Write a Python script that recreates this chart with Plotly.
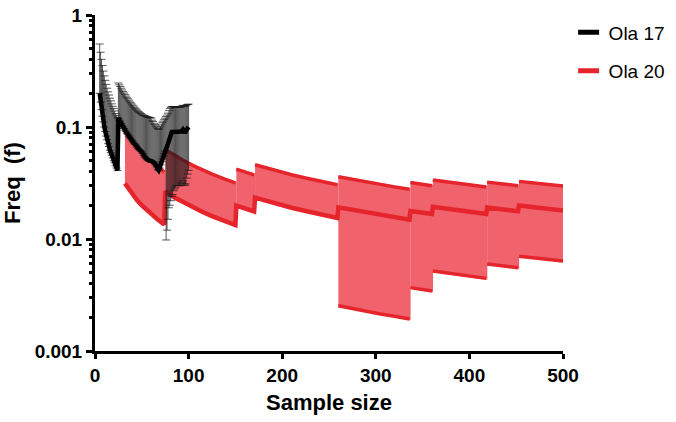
import plotly.graph_objects as go

# ---------------- data ----------------
# Ola 17 (black): sample size, frequency, upper and lower bounds
black_n = list(range(5, 101))
black_f = [0.20, 0.167, 0.143, 0.125, 0.111, 0.10, 0.091, 0.083, 0.077, 0.071,
           0.067, 0.062, 0.059, 0.056, 0.053, 0.050, 0.048, 0.045, 0.043, 0.041,
           0.12, 0.115, 0.111, 0.107, 0.103, 0.10, 0.097, 0.094, 0.091, 0.088,
           0.086, 0.083, 0.081, 0.079, 0.077, 0.075, 0.073, 0.071, 0.070, 0.068,
           0.066, 0.064, 0.063, 0.062, 0.061, 0.060, 0.058, 0.056, 0.054, 0.053,
           0.052, 0.051, 0.050, 0.050, 0.050, 0.050, 0.049, 0.049, 0.048, 0.047,
           0.046, 0.044, 0.042, 0.041,
           0.043, 0.046, 0.049, 0.052, 0.055, 0.058, 0.061, 0.064, 0.067, 0.071,
           0.077, 0.083, 0.087, 0.090, 0.090, 0.090, 0.090, 0.090, 0.090, 0.090,
           0.090, 0.090, 0.090, 0.091, 0.093, 0.095, 0.092, 0.088, 0.092, 0.096,
           0.098, 0.10]
black_hi = [0.551, 0.465, 0.402, 0.354, 0.316, 0.286, 0.261, 0.240, 0.222, 0.206,
            0.193, 0.181, 0.171, 0.161, 0.153, 0.146, 0.139, 0.132, 0.127, 0.122,
            0.247, 0.238, 0.230, 0.222, 0.214, 0.207, 0.201, 0.195, 0.189, 0.184,
            0.179, 0.174, 0.170, 0.165, 0.161, 0.157, 0.154, 0.150, 0.147, 0.144,
            0.141, 0.138, 0.136, 0.134, 0.132, 0.130, 0.128, 0.127, 0.126, 0.125,
            0.124, 0.123, 0.122, 0.122, 0.121, 0.120, 0.115, 0.112, 0.108, 0.105,
            0.102, 0.100, 0.097, 0.095,
            0.098, 0.102, 0.106, 0.110, 0.113, 0.117, 0.120, 0.124, 0.128, 0.133,
            0.140, 0.146, 0.150, 0.152, 0.152, 0.152, 0.152, 0.152, 0.150, 0.150,
            0.150, 0.150, 0.150, 0.152, 0.154, 0.156, 0.155, 0.152, 0.155, 0.158,
            0.159, 0.160]
black_lo = [None] * 71 + [0.0098, 0.012, 0.015, 0.019, 0.020, 0.022, 0.024, 0.025,
                          0.027, 0.028, 0.029, 0.030, 0.030, 0.030, 0.030, 0.030,
                          0.031, 0.032, 0.033, 0.031, 0.030, 0.031, 0.035, 0.038,
                          0.041]

# Ola 20 (red): sample size, frequency, upper and lower bounds
red_n = [32, 36, 40, 45, 50, 55, 60, 67, 74,
         75, 85, 95, 105, 115, 125, 138, 150,
         151, 160, 170,
         171, 180, 195, 210, 225, 240, 259,
         260, 275, 290, 305, 320, 336,
         337, 348, 360,
         361, 375, 390, 405, 418,
         419, 435, 452,
         453, 465, 480, 500]
red_f = [0.0313, 0.0278, 0.0250, 0.0222, 0.0200, 0.0182, 0.0167, 0.0149, 0.0135,
         0.0267, 0.0235, 0.0211, 0.0190, 0.0174, 0.0160, 0.0145, 0.0133,
         0.0199, 0.0188, 0.0176,
         0.0234, 0.0222, 0.0205, 0.0190, 0.0178, 0.0167, 0.0154,
         0.0192, 0.0182, 0.0172, 0.0164, 0.0156, 0.0149,
         0.0178, 0.0172, 0.0167,
         0.0194, 0.0187, 0.0179, 0.0173, 0.0167,
         0.0191, 0.0184, 0.0177,
         0.0199, 0.0194, 0.0188, 0.0180]
red_hi = [0.0915, 0.0815, 0.0734, 0.0653, 0.0588, 0.0535, 0.0490, 0.0440, 0.0398,
          0.0631, 0.0558, 0.0499, 0.0452, 0.0413, 0.0380, 0.0344, 0.0317,
          0.0421, 0.0398, 0.0374,
          0.0460, 0.0438, 0.0404, 0.0375, 0.0350, 0.0329, 0.0305,
          0.0359, 0.0340, 0.0322, 0.0306, 0.0292, 0.0278,
          0.0319, 0.0309, 0.0299,
          0.0336, 0.0324, 0.0311, 0.0300, 0.0291,
          0.0322, 0.0310, 0.0299,
          0.0327, 0.0319, 0.0309, 0.0297]
red_lo = [None] * 27 + [0.00254, 0.00239, 0.00226, 0.00214, 0.00204, 0.00193,
                        0.00368, 0.00356, 0.00344,
                        0.00517, 0.00497, 0.00477, 0.00459, 0.00445,
                        0.00599, 0.00576, 0.00554,
                        0.00702, 0.00683, 0.00662, 0.00635]
red_segment_starts = [32, 75, 151, 171, 260, 337, 361, 419, 453]

series_names = ["Ola 17", "Ola 20"]
x_ticks = [0, 100, 200, 300, 400, 500]
y_ticks = [0.001, 0.01, 0.1, 1]
y_tick_text = ["0.001", "0.01", "0.1", "1"]

# ---------------- style ----------------
FONT = "Liberation Sans, Arial, Helvetica, sans-serif"
RED = "#e6242c"
PINK = "rgb(240,98,108)"
BLACK = "#000000"

fig = go.Figure()

# red bands per segment
bounds = red_segment_starts + [10 ** 9]
for s in range(len(red_segment_starts)):
    idx = [i for i, n in enumerate(red_n) if bounds[s] <= n < bounds[s + 1]]
    xs = [red_n[i] for i in idx]
    hi = [red_hi[i] for i in idx]
    lo_present = red_lo[idx[0]] is not None
    lo = [red_lo[i] if lo_present else red_f[i] for i in idx]
    fig.add_trace(go.Scatter(x=xs + xs[::-1], y=hi + lo[::-1], mode="lines",
                             fill="toself", fillcolor=PINK,
                             line=dict(color=PINK, width=2.2),
                             hoverinfo="skip", showlegend=False))
    fig.add_trace(go.Scatter(x=xs, y=hi, mode="lines",
                             line=dict(color=RED, width=3.5),
                             hoverinfo="skip", showlegend=False))
    if lo_present:
        fig.add_trace(go.Scatter(x=xs, y=lo, mode="lines",
                                 line=dict(color=RED, width=3.5),
                                 hoverinfo="skip", showlegend=False))

fig.add_trace(go.Scatter(x=red_n, y=red_f, mode="lines",
                         line=dict(color=RED, width=4.5),
                         showlegend=False, name=series_names[1]))

# black series with error bars
err_plus = [h - f for h, f in zip(black_hi, black_f)]
err_minus = [(f - l) if l is not None else 0 for f, l in zip(black_f, black_lo)]
fig.add_trace(go.Scatter(x=black_n, y=black_f, mode="lines",
                         line=dict(color=BLACK, width=4.5),
                         error_y=dict(type="data", symmetric=False,
                                      array=err_plus, arrayminus=err_minus,
                                      color="rgba(25,25,25,0.72)",
                                      thickness=1, width=4),
                         showlegend=False, name=series_names[0]))

# legend entries
for name, col in zip(series_names, [BLACK, RED]):
    fig.add_trace(go.Scatter(x=[None], y=[None], mode="markers", name=name,
                             legendgroup=name,
                             marker=dict(symbol="line-ew", size=15,
                                         line=dict(color=col, width=5))))

fig.update_layout(
    width=676, height=422,
    margin=dict(l=95, r=113, t=15, b=71, autoexpand=False),
    paper_bgcolor="white", plot_bgcolor="white",
    font=dict(family=FONT, color="black"),
    legend=dict(x=1.012, y=1.005, xanchor="left", yanchor="top",
                font=dict(size=19, family=FONT), tracegroupgap=11,
                traceorder="grouped", bgcolor="rgba(0,0,0,0)"),
    xaxis=dict(range=[0, 500], tickvals=x_ticks, ticks="outside", ticklen=5,
               tickwidth=3, tickcolor="black", showline=True, linewidth=3,
               linecolor="black", showgrid=False, zeroline=False,
               automargin=False,
               tickfont=dict(size=19, family=FONT, weight="bold"),
               title=dict(text="Sample size", standoff=10,
                          font=dict(size=22, family=FONT, weight="bold"))),
    yaxis=dict(type="log", range=[-3, 0], tickvals=y_ticks, ticktext=y_tick_text,
               ticks="outside", ticklen=6, tickwidth=3, tickcolor="black",
               showline=True, linewidth=3, linecolor="black", showgrid=False,
               zeroline=False, automargin=False,
               minor=dict(ticks="outside", ticklen=3, tickwidth=2.5,
                          tickcolor="black", dtick="D1", showgrid=False),
               tickfont=dict(size=19, family=FONT, weight="bold"),
               title=dict(text="Freq\u00a0\u00a0(f)", standoff=8,
                          font=dict(size=22, family=FONT, weight="bold"))),
)

fig.write_html("out.html",
               config={"displayModeBar": False},
               post_script="document.body.style.margin='0px';"
                           "document.body.style.overflow='hidden';")
